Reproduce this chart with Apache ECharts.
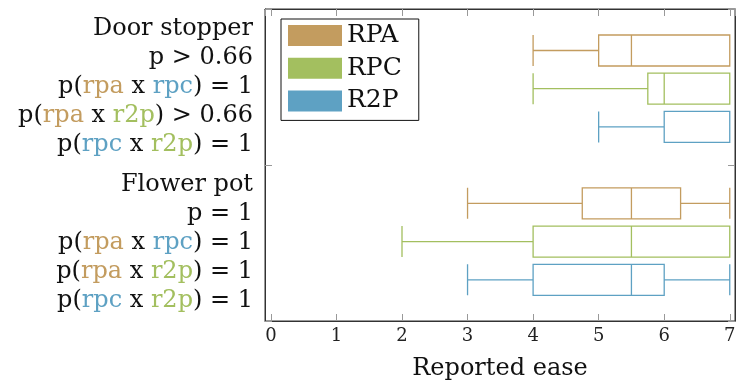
<!DOCTYPE html>
<html>
<head>
<meta charset="utf-8">
<script src="https://cdn.jsdelivr.net/npm/echarts@6/dist/echarts.min.js"></script>
<style>
  html, body { margin: 0; padding: 0; background: #fff; }
  #chart { width: 741px; height: 388px; }
</style>
</head>
<body>
<div id="chart"></div>
<script>
// categories and values (min, Q1, median, Q3, max)
const groups = ['Door stopper', 'Flower pot'];
const seriesNames = ['RPA', 'RPC', 'R2P'];
const rpaData = [[4, 5, 5.5, 7, 7], [3, 4.75, 5.5, 6.25, 7]];
const rpcData = [[4, 5.75, 6, 7, 7], [2, 4, 5.5, 7, 7]];
const r2pData = [[5, 6, 6, 7, 7], [3, 4, 5.5, 6, 7]];
// one row per box, empty row between the two groups
const rows = ['ds-rpa', 'ds-rpc', 'ds-r2p', 'gap', 'fp-rpa', 'fp-rpc', 'fp-r2p'];
const groupLines = [
  ['Door stopper', 'p > 0.66', 'p({a|rpa} x {c|rpc}) = 1', 'p({a|rpa} x {p|r2p}) > 0.66', 'p({c|rpc} x {p|r2p}) = 1'],
  ['Flower pot', 'p = 1', 'p({a|rpa} x {c|rpc}) = 1', 'p({a|rpa} x {p|r2p}) = 1', 'p({c|rpc} x {p|r2p}) = 1']
];

const colors = ['#c39c5f', '#a3bf5f', '#5ea1c3'];
const serif = '"DejaVu Serif", serif';
const xMin = -0.09, xMax = 7.08;

function boxRows(values, offset) {
  return values.map((v, g) => [g * 4 + offset].concat(v));
}

function richStyle(color) {
  return { color: color, fontFamily: serif, fontSize: 24, lineHeight: 29 };
}

function frameLine() {
  return { show: true, onZero: false, lineStyle: { color: '#333', width: 1 } };
}
function innerTick() {
  return { show: true, inside: true, length: 7, lineStyle: { color: '#999' } };
}

let myChart = echarts.init(document.getElementById('chart'));

let frameRect = { left: 265, right: 6, top: 9, bottom: 67, outerBoundsMode: 'none' };

let option = {
  animation: false,
  grid: [
    Object.assign({ show: true, borderColor: '#333', borderWidth: 1, backgroundColor: 'transparent' }, frameRect),
    { left: 265, right: 6, top: 31.4, height: 267.5, outerBoundsMode: 'none' },
    Object.assign({}, frameRect)
  ],
  legend: {
    orient: 'vertical',
    left: 281,
    top: 19,
    icon: 'rect',
    itemWidth: 54,
    itemHeight: 21,
    itemGap: 7.7,
    padding: [4, 17, 7, 7],
    borderColor: '#111',
    borderWidth: 1,
    backgroundColor: '#fff',
    textStyle: { fontFamily: serif, fontSize: 25, color: '#111', lineHeight: 21 },
    data: seriesNames.map((n, i) => ({ name: n, itemStyle: { color: colors[i], borderWidth: 0 } }))
  },
  xAxis: [
    {
      gridIndex: 0, type: 'value', position: 'bottom', min: xMin, max: xMax, splitNumber: 7,
      axisLine: frameLine(),
      axisTick: innerTick(),
      axisLabel: { showMinLabel: false, showMaxLabel: false, fontFamily: serif, fontSize: 18, color: '#222', margin: 6 },
      splitLine: { show: false },
      name: 'Reported ease', nameLocation: 'middle', nameGap: 36,
      nameTextStyle: { fontFamily: serif, fontSize: 24, color: '#111', lineHeight: 24 }
    },
    { gridIndex: 1, type: 'value', min: xMin, max: xMax, show: false },
    {
      gridIndex: 2, type: 'value', position: 'top', min: xMin, max: xMax, splitNumber: 7,
      axisLine: frameLine(),
      axisTick: innerTick(),
      axisLabel: { show: false },
      splitLine: { show: false }
    }
  ],
  yAxis: [
    {
      gridIndex: 0, type: 'category', position: 'left', inverse: true, data: groups,
      axisLine: frameLine(),
      axisTick: innerTick(),
      axisLabel: {
        margin: 12,
        fontFamily: serif, fontSize: 24, lineHeight: 29, color: '#111',
        formatter: (val, idx) => groupLines[idx].join('\n'),
        rich: { a: richStyle(colors[0]), c: richStyle(colors[2]), p: richStyle(colors[1]) }
      }
    },
    { gridIndex: 1, type: 'category', inverse: true, data: rows, show: false },
    { gridIndex: 1, type: 'category', inverse: true, data: rows, show: false },
    { gridIndex: 1, type: 'category', inverse: true, data: rows, show: false },
    {
      gridIndex: 2, type: 'category', position: 'right', inverse: true, data: groups,
      axisLine: frameLine(),
      axisTick: innerTick(),
      axisLabel: { show: false }
    }
  ],
  series: [rpaData, rpcData, r2pData].map((vals, i) => ({
    name: seriesNames[i],
    type: 'boxplot',
    xAxisIndex: 1,
    yAxisIndex: 1 + i,
    boxWidth: [31, 31],
    encode: { y: 0, x: [1, 2, 3, 4, 5] },
    itemStyle: { color: '#fff', borderColor: colors[i], borderWidth: 1.3 },
    data: boxRows(vals, i)
  }))
};

myChart.setOption(option);
</script>
</body>
</html>
